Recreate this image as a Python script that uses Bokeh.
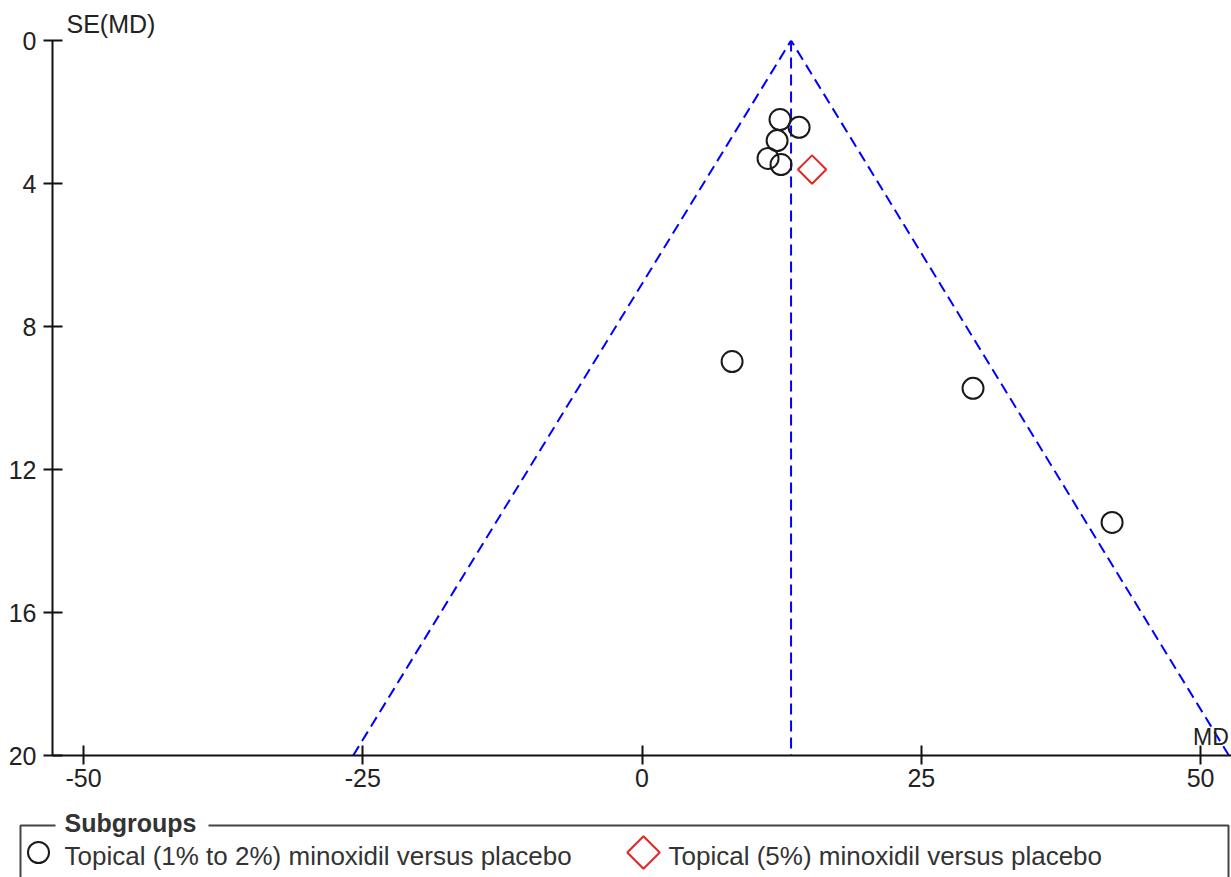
import math
from bokeh.plotting import figure
from bokeh.models import Range1d, FixedTicker, Label
from bokeh.layouts import column
from bokeh.embed import file_html
from bokeh.resources import INLINE
from bokeh.core.properties import value

FONT = "Liberation Sans"
TXT = "#222222"

# ---- data ----
md_low_dose = [12.35, 14.06, 12.09, 11.28, 12.44, 8.06, 29.63, 42.08]
se_low_dose = [2.21, 2.43, 2.80, 3.30, 3.47, 8.98, 9.73, 13.48]
md_high_dose = [15.22]
se_high_dose = [3.61]
pooled_md = 13.34
se_limit = 20
x_ticks = [-50, -25, 0, 25, 50]
y_ticks = [0, 4, 8, 12, 16, 20]
x_label = "MD"
y_label = "SE(MD)"
legend_title = "Subgroups"
legend_labels = ["Topical (1% to 2%) minoxidil versus placebo",
                 "Topical (5%) minoxidil versus placebo"]

# ---- main funnel plot ----
p = figure(width=1231, height=808, output_backend="svg", toolbar_location=None,
           x_range=Range1d(-52.78, 52.77), y_range=Range1d(se_limit, 0),
           min_border_left=52, min_border_right=0, min_border_top=40,
           min_border_bottom=53, title=y_label)
p.frame_align = False
p.outline_line_color = None
p.grid.visible = False
p.background_fill_color = "white"
p.border_fill_color = "white"

p.title.align = "left"
p.title.offset = 14
p.title.standoff = 6
p.title.text_font = FONT
p.title.text_font_size = "25px"
p.title.text_font_style = "normal"
p.title.text_color = TXT

p.xaxis.ticker = FixedTicker(ticks=x_ticks)
p.yaxis.ticker = FixedTicker(ticks=y_ticks)
p.xaxis.major_label_overrides = {t: str(t) for t in x_ticks}
for ax in (p.xaxis, p.yaxis):
    ax.axis_line_width = 2
    ax.axis_line_color = "#111111"
    ax.major_tick_line_width = 2
    ax.major_tick_line_color = "#111111"
    ax.major_tick_in = 10
    ax.major_tick_out = 9
    ax.minor_tick_line_color = None
    ax.major_label_text_font = FONT
    ax.major_label_text_font_size = "25px"
    ax.major_label_text_color = TXT
p.xaxis.major_label_standoff = 4
p.yaxis.major_label_standoff = 7

funnel_color = "#0000ff"
p.line([pooled_md - 1.96 * se_limit, pooled_md, pooled_md + 1.96 * se_limit],
       [se_limit, 0, se_limit], line_color=funnel_color, line_width=2,
       line_dash="11 6")
p.line([pooled_md, pooled_md], [0, se_limit], line_color=funnel_color,
       line_width=2, line_dash="11 6")

p.scatter(md_low_dose, se_low_dose, marker="circle", size=21, fill_color=None,
          line_color="#1a1a1a", line_width=2)
p.scatter(md_high_dose, se_high_dose, marker="square", angle=math.pi / 4,
          size=20, fill_color=None, line_color="#e32626", line_width=2)

p.add_layout(Label(x=49.33, y=19.47, text=x_label, text_font=FONT,
                   text_font_size="23px", text_color=TXT,
                   text_baseline="alphabetic"))

# ---- legend panel ----
q = figure(width=1231, height=69, output_backend="svg", toolbar_location=None,
           x_range=Range1d(0, 1231), y_range=Range1d(69, 0),
           min_border=0, min_border_left=0, min_border_right=0,
           min_border_top=0, min_border_bottom=0,
           x_axis_location=None, y_axis_location=None)
q.frame_align = False
q.outline_line_color = None
q.grid.visible = False

q.multi_line(xs=[[20, 20, 55], [208, 1228, 1228]],
             ys=[[80, 17, 17], [17, 17, 80]],
             line_color="#444444", line_width=2)
q.text(x=[64], y=[14], text=[legend_title], text_font=value(FONT),
       text_font_size="25px", text_font_style="bold", text_color="#333333",
       text_baseline="alphabetic")
q.scatter(x=[38], y=[44], marker="circle", size=21, fill_color=None,
          line_color="#1a1a1a", line_width=2)
q.scatter(x=[643], y=[44], marker="square", angle=math.pi / 4, size=23,
          fill_color=None, line_color="#e32626", line_width=2)
q.text(x=[64, 668], y=[47, 47], text=legend_labels, text_font=value(FONT),
       text_font_size="26px", text_color="#333333", text_baseline="alphabetic")

layout = column(p, q, spacing=0)
open("out.html", "w").write(file_html(layout, INLINE))
